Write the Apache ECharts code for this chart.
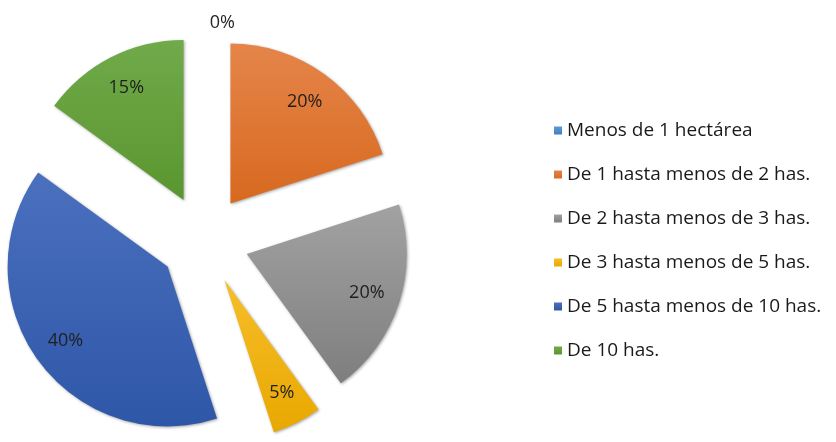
<!DOCTYPE html>
<html>
<head>
<meta charset="utf-8">
<script src="https://cdn.jsdelivr.net/npm/echarts@6/dist/echarts.min.js"></script>
<style>
  html, body { margin: 0; padding: 0; background: #fff; }
  #main { width: 836px; height: 442px; }
</style>
</head>
<body>
<div id="main"></div>
<script type="text/javascript">
    // datos del gráfico
    var categorias = ['Menos de 1 hectárea', 'De 1 hasta menos de 2 has.', 'De 2 hasta menos de 3 has.',
        'De 3 hasta menos de 5 has.', 'De 5 hasta menos de 10 has.', 'De 10 has.'];
    var valores = [0, 20, 20, 5, 40, 15];

    // colores (arriba / abajo del degradado)
    var colorArriba = ['#5B9BD5', '#E5854A', '#A2A2A2', '#F7BE2A', '#4A70BE', '#70AA4A'];
    var colorAbajo = ['#3F7FBF', '#D8691F', '#7E7E7E', '#E8A800', '#2F57A8', '#5A962F'];

    var chart = echarts.init(document.getElementById('main'));

    var centro = [204, 240];
    var radio = 160;

    var datos = categorias.map(function (c, i) {
        return {
            name: c,
            value: valores[i],
            selected: true,
            itemStyle: {
                color: new echarts.graphic.LinearGradient(0, 0, 0, 1, [
                    { offset: 0, color: colorArriba[i] },
                    { offset: 1, color: colorAbajo[i] }
                ])
            }
        };
    });

    // serie invisible solo para colocar las etiquetas más cerca del borde
    var etiquetas = categorias.map(function (c, i) {
        var d = { name: c, value: valores[i], selected: true };
        if (valores[i] === 0) {
            d.label = { position: 'outside', color: '#262626' };
            d.labelLine = { show: false, length: 12, length2: 0 };
        }
        return d;
    });

    var option = {
        animation: false,
        color: colorArriba,
        legend: {
            orient: 'vertical',
            left: 549,
            top: 116,
            itemWidth: 8,
            itemHeight: 8,
            itemGap: 25,
            icon: 'rect',
            data: categorias,
            textStyle: { fontFamily: 'Open Sans', fontSize: 19, color: '#1a1a1a' }
        },
        series: [{
            name: 'Superficie',
            type: 'pie',
            center: centro,
            radius: [0, radio],
            startAngle: 90,
            clockwise: true,
            selectedMode: 'multiple',
            selectedOffset: 45,
            avoidLabelOverlap: false,
            label: { show: false },
            labelLine: { show: false },
            itemStyle: {
                shadowBlur: 3,
                shadowColor: 'rgba(0,0,0,0.35)',
                shadowOffsetX: 1,
                shadowOffsetY: 1
            },
            data: datos
        }, {
            name: 'Etiquetas',
            type: 'pie',
            silent: true,
            center: centro,
            radius: [radio * 0.54, radio],
            startAngle: 90,
            clockwise: true,
            selectedMode: 'multiple',
            selectedOffset: 45,
            avoidLabelOverlap: false,
            itemStyle: { color: 'rgba(0,0,0,0)' },
            label: {
                show: true,
                position: 'inside',
                formatter: '{d}%',
                fontFamily: 'Open Sans',
                fontSize: 18,
                color: '#1f1f1f'
            },
            labelLine: { show: false },
            // el 0% queda algo a la derecha del eje vertical
            labelLayout: function (p) {
                if (valores[p.dataIndex] === 0) {
                    return { dx: 36 };
                }
            },
            data: etiquetas
        }]
    };

    chart.setOption(option);
</script>
</body>
</html>
